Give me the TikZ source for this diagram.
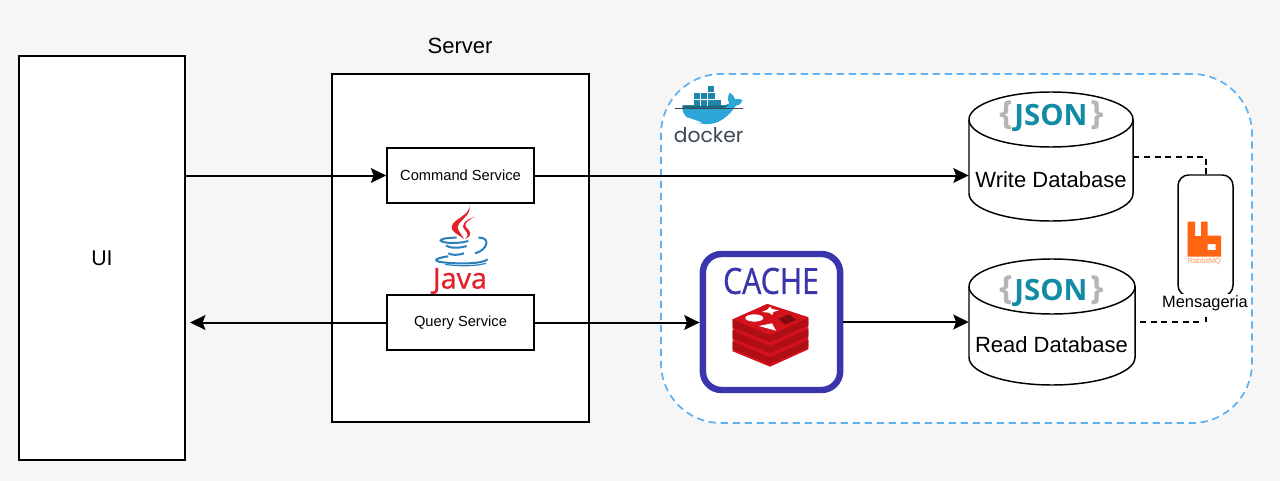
\documentclass[tikz,border=0pt]{standalone}
\usepackage{fontspec}
\setmainfont{Liberation Sans}
\newfontfamily\dockerfont{Poppins}
\newfontfamily\logofont{Open Sans}
\newfontfamily\cachefont[FakeBold=0.8]{Open Sans}
\usetikzlibrary{arrows.meta,shapes.geometric,calc}
\definecolor{pagebg}{HTML}{F6F6F6}
\definecolor{dashblue}{HTML}{62B2EE}
\definecolor{cacheblue}{HTML}{3A35AC}
\definecolor{redisA}{HTML}{D3121C}
\definecolor{redisB}{HTML}{B00E15}
\definecolor{redisC}{HTML}{7F0A10}
\definecolor{jsonteal}{HTML}{128CA6}
\definecolor{jsongray}{HTML}{B5B5B5}
\definecolor{rabbit}{HTML}{FF6412}
\definecolor{dockdark}{HTML}{1E86A8}
\definecolor{docklight}{HTML}{2BA6D6}
\definecolor{docktext}{HTML}{3C4A50}
\definecolor{javared}{HTML}{E3212B}
\definecolor{javablue}{HTML}{2C7FBF}
\newcommand{\dbshape}[3]{% node name, half width, half distance of the end ellipses
  \begin{scope}[shift={(#1.center)}]
    \pgfmathsetmacro{\kx}{0.5523*#2}
    \draw[dbline,fill=white] (-#2,-#3) -- (-#2,#3)
      .. controls (-#2,#3+15.2) and (-\kx,#3+27.5) .. (0,#3+27.5)
      .. controls (\kx,#3+27.5) and (#2,#3+15.2) .. (#2,#3)
      -- (#2,-#3)
      .. controls (#2,-#3-15.2) and (\kx,-#3-27.5) .. (0,-#3-27.5)
      .. controls (-\kx,-#3-27.5) and (-#2,-#3-15.2) .. (-#2,-#3) -- cycle;
    \draw[dbline] (-#2,-#3)
      .. controls (-#2,-#3+15.2) and (-\kx,-#3+27.5) .. (0,-#3+27.5)
      .. controls (\kx,-#3+27.5) and (#2,-#3+15.2) .. (#2,-#3);
  \end{scope}}
\tikzset{
  box/.style={draw=black,line width=1.1pt,fill=white,inner sep=0pt},
  svc/.style={box,minimum width=110.25pt,minimum height=41.25pt,font=\fontsize{11}{13}\selectfont},
  dbline/.style={draw=black,line width=1.1pt},
  dbase/.style={inner sep=0pt},
  dbtext/.style={font=\fontsize{16.5}{18}\selectfont,inner sep=0pt},
  conn/.style={line width=1.5pt,-{Stealth[length=11.5pt,width=11pt,inset=2pt]}},
  link/.style={line width=1.2pt,dash pattern=on 4.5pt off 3.5pt},
  jsonlabel/.style={inner sep=0pt,font=\logofont\bfseries\fontsize{22}{24}\selectfont,text=jsonteal},
  bracelabel/.style={inner sep=0pt,text=jsongray,font=\logofont\bfseries\fontsize{25}{27}\selectfont},
}
\begin{document}
\begin{tikzpicture}[x=0.75pt,y=-0.75pt]
\useasboundingbox (0,0) rectangle (1280,481);
\fill[pagebg] (0,0) rectangle (1280,481);

% docker region
\node[draw=dashblue,line width=1.3pt,dash pattern=on 5.5pt off 3.5pt,fill=white,rounded corners=45pt,
  minimum width=443.25pt,minimum height=261.75pt,inner sep=0pt] (region) at (956.5,248.5) {};

% main boxes
\node[box,minimum width=124.5pt,minimum height=303pt,font=\fontsize{16}{18}\selectfont] (ui) at (102,258) {UI};
\node[box,minimum width=192.75pt,minimum height=261pt] (server) at (460.5,248) {};
\node[inner sep=0pt,font=\fontsize{16.5}{18}\selectfont] (servertitle) at (460,46) {Server};
\node[svc] (cmd) at (460.5,175.5) {Command Service};
\node[svc] (qry) at (460.5,322.5) {Query Service};

% cache box
\node[draw=cacheblue,line width=4.8pt,fill=white,rounded corners=14pt,minimum width=103pt,minimum height=102pt,inner sep=0pt] (cache) at (771.5,322) {};
\node[inner sep=0pt,text=cacheblue,xscale=0.84,font=\cachefont\fontsize{27}{29}\selectfont] (cachetext) at (771,281) {CACHE};

% databases
\node[dbase,minimum width=123pt,minimum height=96.75pt] (write) at (1051,156.5) {};
\node[dbase,minimum width=124.5pt,minimum height=94.5pt] (read) at (1052,322) {};
\dbshape{write}{82}{37}
\dbshape{read}{83}{35.5}
\node[dbtext] (writetext) at (1051,180) {Write Database};
\node[dbtext] (readtext) at (1051.5,345) {Read Database};
\node[jsonlabel] (jsonA) at (1051,118) {JSON};
\node[jsonlabel] (jsonB) at (1051,293) {JSON};
\node[bracelabel] (braceAl) at (1006,115) {\{};
\node[bracelabel] (braceAr) at (1097,115) {\}};
\node[bracelabel] (braceBl) at (1006,290) {\{};
\node[bracelabel] (braceBr) at (1097,290) {\}};

% message broker
\node[draw=black,line width=1.1pt,fill=white,rounded corners=8pt,minimum width=41.25pt,minimum height=90.75pt,inner sep=0pt] (mq) at (1205.5,235.5) {};
\node[inner sep=0pt,fill=white,minimum width=64pt,minimum height=14pt,font=\fontsize{12.3}{14}\selectfont] (mens) at (1205,303) {Mensageria};
\coordinate (mqlow) at (1206,317);
\coordinate (linkA) at (1206,157);
\coordinate (linkB) at (1140,322);
\coordinate (linkC) at (1202,322);

% connectors
\draw[conn] (ui.east |- cmd.west) -- (cmd.west);
\draw[conn] (cmd.east) -- (write.west |- cmd.east);
\coordinate (uiend) at (190,322.5);
\draw[conn] (qry.west) -- (uiend);
\draw[conn] (qry.east) -- (cache.west |- qry.east);
\draw[conn] (cache.east) -- (read.west |- cache.east);
\draw[link] (write.east |- linkA) -- (linkA) -- ($(linkA)+(0,13)$);
\draw[line width=1.1pt] ($(linkA)+(0,11)$) -- (linkA |- mq.north);
\draw[link] (linkB) -- (linkC);
\draw[line width=1.1pt] (linkA |- linkC) -- (mqlow);

% docker logo
\begin{scope}[shift={(660,70)},x=0.25pt,y=-0.25pt]
  \fill[docklight] (66,112) .. controls (70,150) and (110,165) .. (150,162)
     .. controls (190,158) and (215,125) .. (228,107) .. controls (240,105) and (246,97) .. (248,90)
     .. controls (240,86) and (230,86) .. (225,88) .. controls (222,78) and (215,70) .. (209,68)
     .. controls (203,78) and (202,92) .. (208,100) .. controls (200,107) and (190,106) .. (182,106)
     -- (68,106) -- cycle;
  \fill[white] (80,142) .. controls (100,148) and (115,152) .. (128,160) .. controls (105,162) and (90,155) .. (80,142) -- cycle;
  \fill[dockdark] (103,87) rectangle (182,107);
  \fill[dockdark] (103,67) rectangle (165,86);
  \fill[dockdark] (140,48) rectangle (163,66);
  \fill[dockdark!80!black] (68,106) -- (205,106) .. controls (200,110) and (190,117) .. (175,117) -- (78,117) .. controls (72,115) and (68,110) .. (68,106) -- cycle;
  \draw[white,line width=.3pt] (122,67) -- (122,107) (143,48) -- (143,107) (103,87) -- (182,87) (103,67)--(165,67);
  \draw[docktext,line width=.5pt] (44,116) -- (248,116);
  \node[inner sep=0pt,text=docktext,font=\dockerfont\fontsize{15.2}{17}\selectfont] (dockertext) at (146,196) {docker};
\end{scope}

% java logo
\begin{scope}[shift={(400,195)},x=0.25pt,y=-0.25pt]
  \fill[javared] (208,28) .. controls (215,60) and (160,70) .. (155,95) .. controls (152,110) and (175,118) .. (192,132)
     .. controls (180,110) and (165,100) .. (178,85) .. controls (190,70) and (215,55) .. (208,28) -- cycle;
  \fill[javared] (225,65) .. controls (195,75) and (180,90) .. (195,105) .. controls (205,115) and (205,125) .. (195,132)
     .. controls (225,118) and (205,105) .. (197,95) .. controls (192,85) and (205,75) .. (225,65) -- cycle;
  \draw[javablue,line width=1.5pt] (170,128) .. controls (140,128) and (120,132) .. (122,137) .. controls (130,146) and (180,146) .. (205,138);
  \draw[javablue,line width=1.5pt] (138,152) .. controls (150,160) and (180,160) .. (200,153);
  \draw[javablue,line width=1.5pt] (145,175) .. controls (155,181) and (175,181) .. (192,175);
  \draw[javablue,line width=1.5pt] (235,128) .. controls (272,125) and (265,165) .. (225,175);
  \draw[javablue,line width=1.5pt] (145,184) .. controls (100,190) and (95,200) .. (140,203) .. controls (190,208) and (250,205) .. (263,193);
  \draw[javablue,line width=.9pt] (135,208) .. controls (180,215) and (230,213) .. (258,205);
  \node[inner sep=0pt,text=javared,font=\cachefont\fontsize{21.5}{23}\selectfont] (javatext) at (180,258) {Java};
\end{scope}

% redis logo
\begin{scope}[shift={(690,240)},x=0.25pt,y=-0.25pt]
  \foreach \d in {66,33,0}{
    \fill[redisA] (128,{238+\d}) -- (232,{192+\d}) -- (355,{232+\d}) -- (355,{262+\d}) -- (240,{314+\d}) -- (128,{268+\d}) -- cycle;
    \fill[redisB] (128,{238+\d}) -- (240,{286+\d}) -- (355,{234+\d}) -- (355,{256+\d}) -- (240,{306+\d}) -- (128,{262+\d}) -- cycle;
    \fill[redisA] (128,{238+\d}) -- (232,{192+\d}) -- (355,{232+\d}) -- (240,{284+\d}) -- cycle;
  }
  \fill[white] (193,234) ellipse [x radius=27,y radius=11];
  \fill[white] (240,200) -- (246,207) -- (266,211) -- (250,216) -- (247,225) -- (236,218) -- (216,216) -- (232,209) -- cycle;
  \fill[white] (206,258) -- (246,250) -- (258,272) -- cycle;
  \fill[redisC] (265,236) -- (298,223) -- (318,240) -- (285,254) -- cycle;
\end{scope}

% rabbitmq logo
\begin{scope}[shift={(1120,170)},x=0.25pt,y=-0.25pt]
  \fill[rabbit,even odd rule] (203,155) -- (225,155) -- (225,198) -- (243,198) -- (243,155) -- (263,155) -- (263,197) -- (303,197) -- (303,260) -- (203,260) -- cycle
     (263,222) rectangle (287,240);
  \node[inner sep=0pt,text=rabbit!70,font=\fontsize{5.5}{6}\selectfont] (rabbittext) at (253,275) {RabbitMQ};
\end{scope}
\end{tikzpicture}
\end{document}
